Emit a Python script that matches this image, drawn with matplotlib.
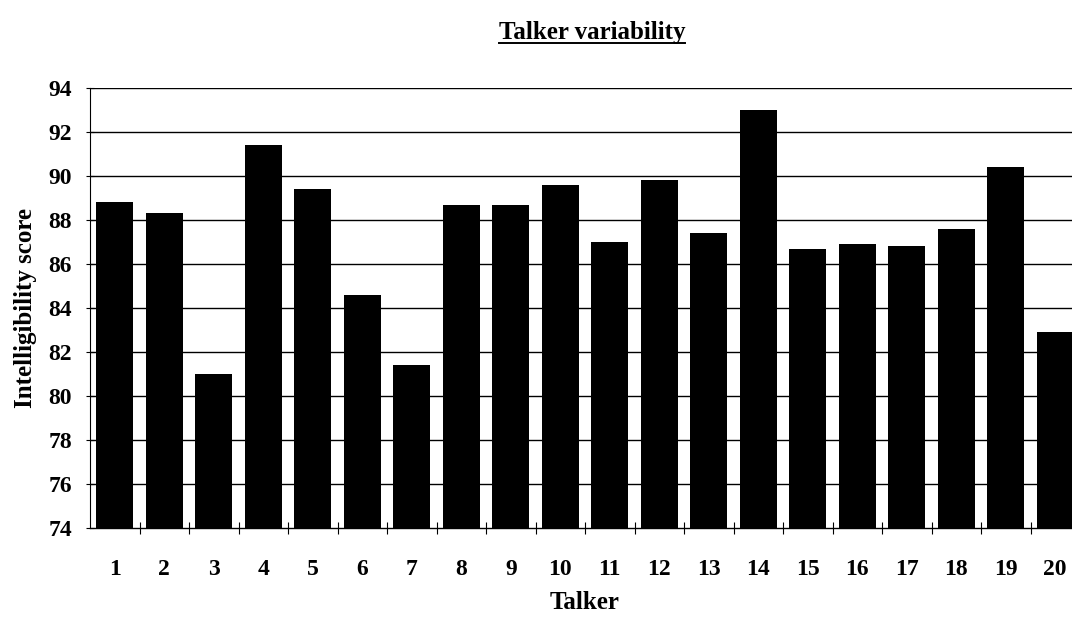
import matplotlib.pyplot as plt
from matplotlib.lines import Line2D
import numpy as np

talkers = [str(i) for i in range(1, 21)]
scores = [88.8, 88.3, 81.0, 91.4, 89.4, 84.6, 81.4, 88.7, 88.7, 89.6,
          87.0, 89.8, 87.4, 93.0, 86.7, 86.9, 86.8, 87.6, 90.4, 82.9]
y_ticks = list(range(74, 95, 2))

plt.rcParams['font.family'] = ['Liberation Serif', 'DejaVu Serif']
plt.rcParams['font.weight'] = 'bold'

fig = plt.figure(figsize=(10.72, 6.24), dpi=100)
ax = fig.add_axes([90 / 1072, 1 - 528 / 624, (1080 - 90) / 1072, 440 / 624])

x = np.arange(1, len(talkers) + 1)
ax.bar(x, scores, width=0.75, color='black', zorder=3)

ax.set_ylim(74, 94)
ax.set_xlim(0.5, 20.5)
ax.set_yticks(y_ticks)
ax.set_yticklabels([str(v) for v in y_ticks], fontsize=17, fontweight='bold')
ax.set_xticks(x)
ax.set_xticklabels(talkers, fontsize=17, fontweight='bold')
ax.set_xticks(np.arange(1.5, 20.5, 1), minor=True)

# category labels sit below, boundary ticks cross the axis
ax.tick_params(axis='x', which='major', length=0, pad=22)
ax.tick_params(axis='x', which='minor', length=8, direction='inout', width=0.8)
ax.tick_params(axis='y', length=6, direction='inout', width=0.8, pad=10)

for v in y_ticks[1:]:
    ax.axhline(v, color='black', linewidth=1.0, zorder=1)

for side in ['top', 'right']:
    ax.spines[side].set_visible(False)
ax.spines['left'].set_linewidth(0.8)
ax.spines['bottom'].set_linewidth(1.0)

ax.set_ylabel('Intelligibility score', fontsize=18, fontweight='bold', labelpad=8)
ax.set_xlabel('Talker', fontsize=18, fontweight='bold', labelpad=8)

title = fig.text(592 / 1072, 1 - 33 / 624, 'Talker variability', fontsize=18,
                 fontweight='bold', ha='center', va='center')

# underline the title
fig.canvas.draw()
bb = title.get_window_extent().transformed(fig.transFigure.inverted())
uy = bb.y0 + 0.002
fig.add_artist(Line2D([bb.x0, bb.x1], [uy, uy], color='black', linewidth=1.4,
                      transform=fig.transFigure))

fig.savefig('out.png', dpi=100)
